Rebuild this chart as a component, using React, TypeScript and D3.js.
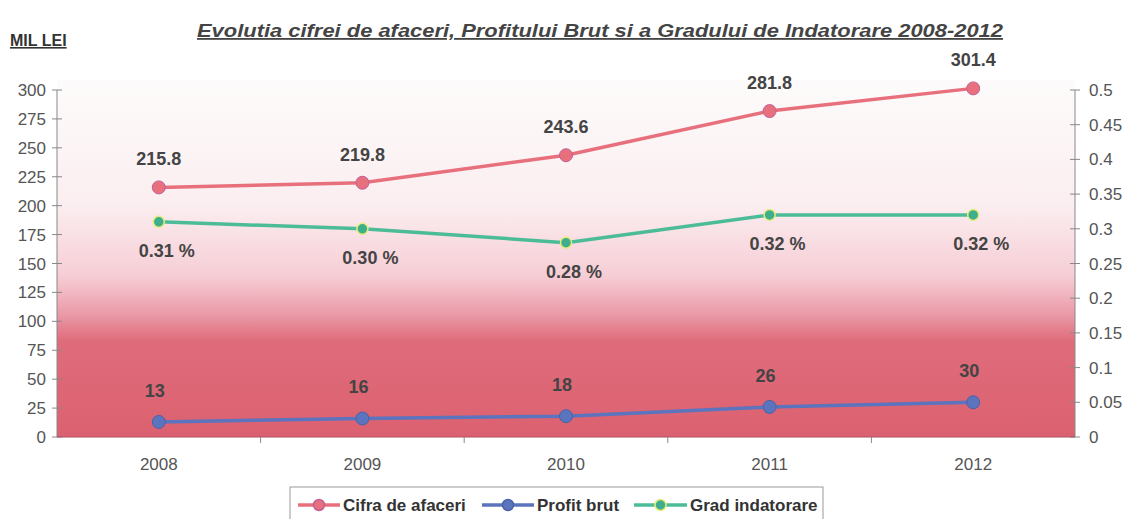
import * as d3 from 'd3'

const years = ['2008', '2009', '2010', '2011', '2012']
const cifraAfaceri = [215.8, 219.8, 243.6, 281.8, 301.4]
const profitBrut = [13, 16, 18, 26, 30]
const gradIndatorare = [0.31, 0.3, 0.28, 0.32, 0.32]
const leftTicks = [0, 25, 50, 75, 100, 125, 150, 175, 200, 225, 250, 275, 300]
const rightTicks = [0, 0.05, 0.1, 0.15, 0.2, 0.25, 0.3, 0.35, 0.4, 0.45, 0.5]

const W = 1131
const H = 519
const margin = { top: 90, right: 56, bottom: 82, left: 57 }
const font = '"Liberation Sans", Arial, sans-serif'

const RED = '#e8707c'
const BLUE = '#5b74bd'
const GREEN = '#4cbc98'

export default function App() {
  const x0 = margin.left
  const x1 = W - margin.right
  const yTop = margin.top
  const yBot = H - margin.bottom

  const x = d3.scaleBand<string>().domain(years).range([x0, x1])
  const yL = d3.scaleLinear().domain([0, 300]).range([yBot, yTop])
  const yR = d3.scaleLinear().domain([0, 0.5]).range([yBot, yTop])
  const cx = (y: string) => (x(y) ?? 0) + x.bandwidth() / 2

  const lineL = d3
    .line<number>()
    .x((_, i) => cx(years[i]))
    .y((d) => yL(d))
  const lineR = d3
    .line<number>()
    .x((_, i) => cx(years[i]))
    .y((d) => yR(d))

  const labelStyle = { fontFamily: font, fontSize: 18, fontWeight: 700, fill: '#444' }
  const tickStyle = { fontFamily: font, fontSize: 17, fill: '#555' }

  // x axis boundaries between categories
  const bounds = years.slice(1).map((y) => x(y) ?? 0)

  const legend = [
    { name: 'Cifra de afaceri', c: RED, fill: RED, s: '#c0609a', x: 298, w: 42 },
    { name: 'Profit brut', c: BLUE, fill: BLUE, s: '#4a62a8', x: 482, w: 52 },
    { name: 'Grad indatorare', c: GREEN, fill: '#3fae8c', s: '#e6ec7a', x: 634, w: 53 },
  ]

  return (
    <svg
      width={W}
      height={H}
      style={{ position: 'absolute', left: 0, top: 0, background: '#fff' }}
    >
      <defs>
        <linearGradient id="bg" x1="0" y1="0" x2="0" y2="1">
          <stop offset="0%" stopColor="#fdfbfb" />
          <stop offset="35%" stopColor="#fbeef0" />
          <stop offset="55%" stopColor="#f6cdd5" />
          <stop offset="66%" stopColor="#ea98a6" />
          <stop offset="73%" stopColor="#df6c7b" />
          <stop offset="100%" stopColor="#dc6170" />
        </linearGradient>
      </defs>

      {/* title */}
      <text
        x={600}
        y={37}
        textAnchor="middle"
        style={{ fontFamily: font, fontSize: 18, fontWeight: 700, fontStyle: 'italic', fill: '#444' }}
        textLength={806}
        lengthAdjust="spacingAndGlyphs"
        textDecoration="underline"
      >
        Evolutia cifrei de afaceri, Profitului Brut si a Gradului de Indatorare 2008-2012
      </text>
      <text
        x={10}
        y={46}
        style={{ fontFamily: font, fontSize: 16, fontWeight: 700, fill: '#333' }}
        textDecoration="underline"
      >
        MIL  LEI
      </text>

      {/* plot background */}
      <rect x={x0} y={yTop - 10} width={x1 - x0} height={yBot - yTop + 10} fill="url(#bg)" />

      {/* left axis */}
      <line x1={x0} x2={x0} y1={yTop} y2={yBot} stroke="#888" />
      {leftTicks.map((t) => (
        <g key={'l' + t}>
          <line x1={x0 - 5} x2={x0 + 5} y1={yL(t)} y2={yL(t)} stroke="#888" />
          <text x={x0 - 11} y={yL(t) + 6} textAnchor="end" style={tickStyle}>
            {t}
          </text>
        </g>
      ))}

      {/* right axis */}
      <line x1={x1} x2={x1} y1={yTop} y2={yBot} stroke="#888" />
      {rightTicks.map((t) => (
        <g key={'r' + t}>
          <line x1={x1 - 5} x2={x1 + 5} y1={yR(t)} y2={yR(t)} stroke="#888" />
          <text x={x1 + 14} y={yR(t) + 6} textAnchor="start" style={tickStyle}>
            {t}
          </text>
        </g>
      ))}

      {/* x axis */}
      <line x1={x0} x2={x1} y1={yBot} y2={yBot} stroke="#b05060" />
      {bounds.map((b, i) => (
        <line key={'b' + i} x1={b} x2={b} y1={yBot} y2={yBot + 6} stroke="#888" />
      ))}
      {years.map((y) => (
        <text key={'x' + y} x={cx(y)} y={yBot + 33} textAnchor="middle" style={tickStyle}>
          {y}
        </text>
      ))}

      {/* series lines */}
      <path d={lineL(cifraAfaceri) ?? ''} fill="none" stroke={RED} strokeWidth={3.5} />
      <path d={lineL(profitBrut) ?? ''} fill="none" stroke={BLUE} strokeWidth={3.5} />
      <path d={lineR(gradIndatorare) ?? ''} fill="none" stroke={GREEN} strokeWidth={3.5} />

      {/* markers and labels */}
      {cifraAfaceri.map((v, i) => (
        <g key={'c' + i}>
          <circle cx={cx(years[i])} cy={yL(v)} r={6.5} fill={RED} stroke="#c0609a" strokeWidth={1} />
          <text x={cx(years[i])} y={yL(v) - 22} textAnchor="middle" style={labelStyle}>
            {v}
          </text>
        </g>
      ))}
      {profitBrut.map((v, i) => (
        <g key={'p' + i}>
          <circle cx={cx(years[i])} cy={yL(v)} r={6.5} fill={BLUE} stroke="#4a62a8" strokeWidth={1} />
          <text x={cx(years[i]) - 4} y={yL(v) - 25} textAnchor="middle" style={labelStyle}>
            {v}
          </text>
        </g>
      ))}
      {gradIndatorare.map((v, i) => (
        <g key={'g' + i}>
          <circle cx={cx(years[i])} cy={yR(v)} r={5.5} fill="#3fae8c" stroke="#e6ec7a" strokeWidth={1.5} />
          <text x={cx(years[i]) + 8} y={yR(v) + 35} textAnchor="middle" style={labelStyle}>
            {v.toFixed(2)} %
          </text>
        </g>
      ))}

      {/* legend */}
      <g>
        <rect x={290} y={487} width={533} height={40} fill="#fff" stroke="#999" />
        {legend.map((d) => (
          <g key={d.name}>
            <line x1={d.x} x2={d.x + d.w} y1={505} y2={505} stroke={d.c} strokeWidth={3.5} />
            <circle cx={d.x + d.w / 2} cy={505} r={5.5} fill={d.fill} stroke={d.s} strokeWidth={1.5} />
            <text x={d.x + d.w + 3} y={511} style={{ fontFamily: font, fontSize: 17, fontWeight: 700, fill: '#333' }}>
              {d.name}
            </text>
          </g>
        ))}
      </g>
    </svg>
  )
}
